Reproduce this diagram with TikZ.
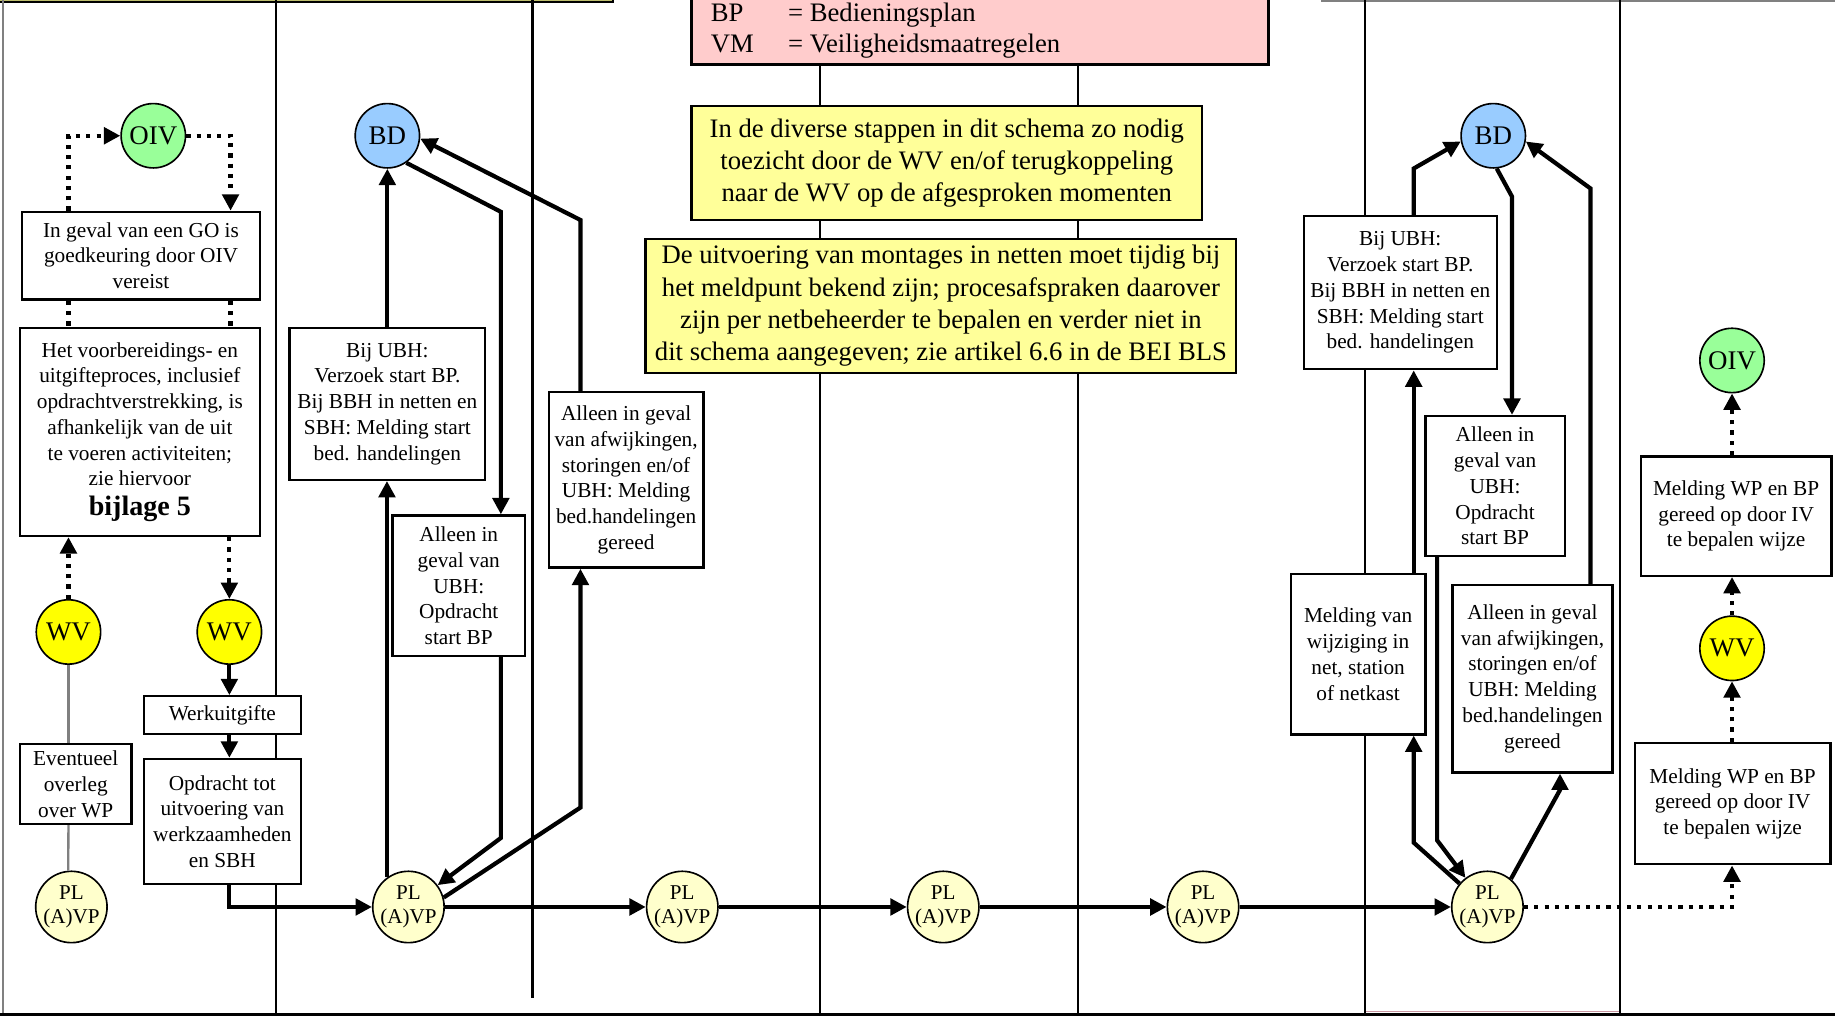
\documentclass[tikz,border=0pt]{standalone}
\usepackage{fontspec}
\setmainfont{Liberation Serif}
\usetikzlibrary{arrows.meta,calc}
\definecolor{yelbox}{HTML}{FFFF99}
\definecolor{pinkbox}{HTML}{FFCCCC}
\definecolor{bdblue}{HTML}{99CCFF}
\definecolor{oivgreen}{HTML}{99FF99}
\definecolor{wvyellow}{HTML}{FFFF00}
\definecolor{plfill}{HTML}{FFFFCC}
\definecolor{olivetop}{RGB}{190,190,110}
\definecolor{pinkline}{RGB}{200,150,160}
\begin{document}
\begin{tikzpicture}[x=0.5pt,y=-0.5pt,
  lane/.style={line width=0.9pt},
  box/.style={draw, line width=1pt, fill=white, inner sep=0pt, align=center, font=\fontsize{9.1}{11}\selectfont},
  ybox/.style={box, fill=yelbox, font=\fontsize{11.4}{13.75}\selectfont},
  circ/.style={ellipse-like, circle, draw, line width=0.7pt, inner sep=0pt, minimum size=27.5pt, font=\fontsize{11.5}{13}\selectfont},
  ellipse-like/.style={},
  plc/.style={circle, draw, line width=0.7pt, fill=plfill, inner sep=0pt, minimum size=30.5pt, align=center, font=\fontsize{9}{10}\selectfont},
  flow/.style={line width=1.8pt, -{Triangle[length=7pt,width=7pt]}},
  dflow/.style={line width=1.8pt, dash pattern=on 1.8pt off 2.6pt, -{Triangle[length=7pt,width=7pt]}},
  dline/.style={line width=1.8pt, dash pattern=on 1.8pt off 2.6pt},
  grayline/.style={line width=1pt, draw=gray},
  legtxt/.style={anchor=base west, inner sep=0pt, font=\fontsize{11.4}{13.75}\selectfont}
]
\useasboundingbox (0,0) rectangle (1568,868);

% frame pieces
\draw[fill=olivetop, line width=0.8pt] (-5,-30) rectangle (523.5,2);
\draw[gray, line width=0.8pt] (1129,0.5) -- (1570,0.5);
\draw[gray, line width=1pt] (2.5,0) -- (2.5,868);
\draw[line width=1pt] (0,867) -- (1568,867);
\draw[pinkline, line width=0.6pt] (1166,864.5) -- (1384,864.5);

% lanes
\draw[lane] (236,0) -- (236,868);
\draw[lane] (455,0) -- (455,853);
\draw[lane] (701,0) -- (701,868);
\draw[lane] (921,0) -- (921,868);
\draw[lane] (1166,0) -- (1166,868);
\draw[lane] (1384,0) -- (1384,868);

% legend box
\draw[fill=pinkbox, line width=1pt] (591,-60) rectangle (1084,55);
\node[legtxt] (lbp) at (607,18) {BP};
\node[legtxt] (lbpt) at (673,18) {= Bedieningsplan};
\node[legtxt] (lvm) at (607,45) {VM};
\node[legtxt] (lvmt) at (673,45) {= Veiligheidsmaatregelen};

% yellow boxes
\node[ybox, minimum width=218pt, minimum height=48.7pt] (yel1) at (809,139.3)
  {In de diverse stappen in dit schema zo nodig\\toezicht door de WV en/of terugkoppeling\\naar de WV op de afgesproken momenten};
\node[ybox, minimum width=252.3pt, minimum height=57.25pt] (yel2) at (804,261.3)
  {De uitvoering van montages in netten moet tijdig bij\\het meldpunt bekend zijn; procesafspraken daarover\\zijn per netbeheerder te bepalen en verder niet in\\dit schema aangegeven; zie artikel 6.6 in de BEI BLS};

% left lane boxes
\node[box, minimum width=101.5pt, minimum height=37.5pt] (box1) at (120.5,218.5)
  {In geval van een GO is\\goedkeuring door OIV\\vereist};
\node[box, minimum width=102.5pt, minimum height=89pt] (box2) at (119.5,369)
  {Het voorbereidings- en\\uitgifteproces, inclusief\\opdrachtverstrekking, is\\afhankelijk van de uit\\te voeren activiteiten;\\zie hiervoor\\[1.5pt]{\fontsize{12}{14}\selectfont\bfseries bijlage 5}};
\node[box, minimum width=67pt, minimum height=16pt] (werk) at (190,611) {Werkuitgifte};
\node[box, minimum width=67pt, minimum height=53.5pt] (opdr) at (190,702)
  {Opdracht tot\\uitvoering van\\werkzaamheden\\en SBH};
\node[box, minimum width=47.75pt, minimum height=34pt] (event) at (64.75,670)
  {Eventueel\\overleg\\over WP};

% second lane boxes
\node[box, minimum width=83.5pt, minimum height=65pt] (box6) at (331,345)
  {Bij UBH:\\Verzoek start BP.\\Bij BBH in netten en\\SBH: Melding start\\bed. handelingen};
\node[box, minimum width=56.5pt, minimum height=60pt] (box7) at (392,500.5)
  {Alleen in\\geval van\\UBH:\\Opdracht\\start BP};
\node[box, minimum width=66pt, minimum height=75pt] (box8) at (535,410)
  {Alleen in geval\\van afwijkingen,\\storingen en/of\\UBH: Melding\\bed.handelingen\\gereed};

% right lane boxes
\node[box, minimum width=82.5pt, minimum height=65.5pt] (box11) at (1196.5,250)
  {Bij UBH:\\Verzoek start BP.\\Bij BBH in netten en\\SBH: Melding start\\bed. handelingen};
\node[box, minimum width=59.5pt, minimum height=59.75pt] (box12) at (1277.5,415.25)
  {Alleen in\\geval van\\UBH:\\Opdracht\\start BP};
\node[box, minimum width=57.5pt, minimum height=68.5pt] (box13) at (1160.5,559)
  {Melding van\\wijziging in\\net, station\\of netkast};
\node[box, minimum width=68.5pt, minimum height=80pt] (box14) at (1309.5,580)
  {Alleen in geval\\van afwijkingen,\\storingen en/of\\UBH: Melding\\bed.handelingen\\gereed};
\node[box, minimum width=81.5pt, minimum height=51pt] (mel1) at (1483.5,441)
  {Melding WP en BP\\gereed op door IV\\te bepalen wijze};
\node[box, minimum width=83.5pt, minimum height=51.75pt] (mel2) at (1480.5,686.75)
  {Melding WP en BP\\gereed op door IV\\te bepalen wijze};

% circles
\node[circ, fill=oivgreen] (oivL) at (131,116) {OIV};
\node[circ, fill=bdblue] (bdL) at (331,116) {BD};
\node[circ, fill=wvyellow] (wv1) at (58.5,540) {WV};
\node[circ, fill=wvyellow] (wv2) at (196,540) {WV};
\node[circ, fill=bdblue] (bdR) at (1276,116) {BD};
\node[circ, fill=oivgreen] (oivR) at (1480,308) {OIV};
\node[circ, fill=wvyellow] (wvR) at (1480,554) {WV};
\node[plc] (pl1) at (61,775) {PL\\(A)VP};
\node[plc] (pl2) at (349,775) {PL\\(A)VP};
\node[plc] (pl3) at (583,775) {PL\\(A)VP};
\node[plc] (pl4) at (806,775) {PL\\(A)VP};
\node[plc] (pl5) at (1028,775) {PL\\(A)VP};
\node[plc] (pl6) at (1271,775) {PL\\(A)VP};

% left lane connectors
\coordinate (xa) at (58.5,0);
\coordinate (xb) at (197,0);
\draw[dflow] (box1.north -| xa) |- (oivL.west);
\draw[dflow] (oivL.east) -| (box1.north -| xb);
\draw[dline] (box1.south -| xa) -- (box2.north -| xa);
\draw[dline] (box1.south -| xb) -- (box2.north -| xb);
\draw[dflow] (wv1.north) -- (wv1.north |- box2.south);
\draw[dflow] (box2.south -| wv2) -- (wv2.north);
\draw[grayline] (wv1.south) -- (wv1.south |- event.north);
\draw[grayline] (wv1.south |- event.south) -- (pl1.95);
\draw[flow] (wv2.south) -- (wv2.south |- werk.north);
\draw[flow] (werk.south -| wv2) -- (opdr.north -| wv2);
\draw[flow] (opdr.south -| wv2) |- (pl2.west);

% second lane connectors
\draw[flow] (pl2.126) -- (pl2.126 |- box6.south);
\draw[flow] (box6.north) -- (bdL.south);
\coordinate (c7) at (428,181);
\draw[flow] (bdL.-55) -- (c7) -- (c7 |- box7.north);
\coordinate (d7) at (428,716);
\draw[flow] (c7 |- box7.south) -- (d7) -- (pl2);
\coordinate (d8) at (496,690);
\draw[flow] (pl2.15) -- (d8) -- (d8 |- box8.south);
\coordinate (c8) at (496,188);
\draw[flow] (c8 |- box8.north) -- (c8) -- (bdL.-5);

% main flow
\draw[flow] (pl2.east) -- (pl3.west);
\draw[flow] (pl3.east) -- (pl4.west);
\draw[flow] (pl4.east) -- (pl5.west);
\draw[flow] (pl5.east) -- (pl6.west);

% right lane connectors
\coordinate (c11) at (1208,144);
\draw[flow] (c11 |- box11.north) -- (c11) -- (bdR.190);
\draw[flow] (c11 |- box13.north) -- (c11 |- box11.south);
\coordinate (d13) at (1208,720);
\draw[flow] (pl6.140) -- (d13) -- (d13 |- box13.south);
\coordinate (c12) at (1292,168);
\draw[flow] (bdR.-84) -- (c12) -- (c12 |- box12.north);
\coordinate (d12) at (1228,718);
\draw[flow] (d12 |- box12.south) -- (d12) -- (pl6);
\coordinate (d14) at (1333,675);
\draw[flow] (pl6.50) -- (d14) -- (d14 |- box14.south);
\coordinate (c14) at (1359,161);
\draw[flow] (c14 |- box14.north) -- (c14) -- (bdR.-10);

% right dotted chain
\draw[dflow] (pl6.east) -| (mel2.south -| wvR);
\draw[dflow] (mel2.north -| wvR) -- (wvR.south);
\draw[dflow] (wvR.north) -- (mel1.south -| wvR);
\draw[dflow] (mel1.north -| wvR) -- (oivR.south);
\end{tikzpicture}
\end{document}
